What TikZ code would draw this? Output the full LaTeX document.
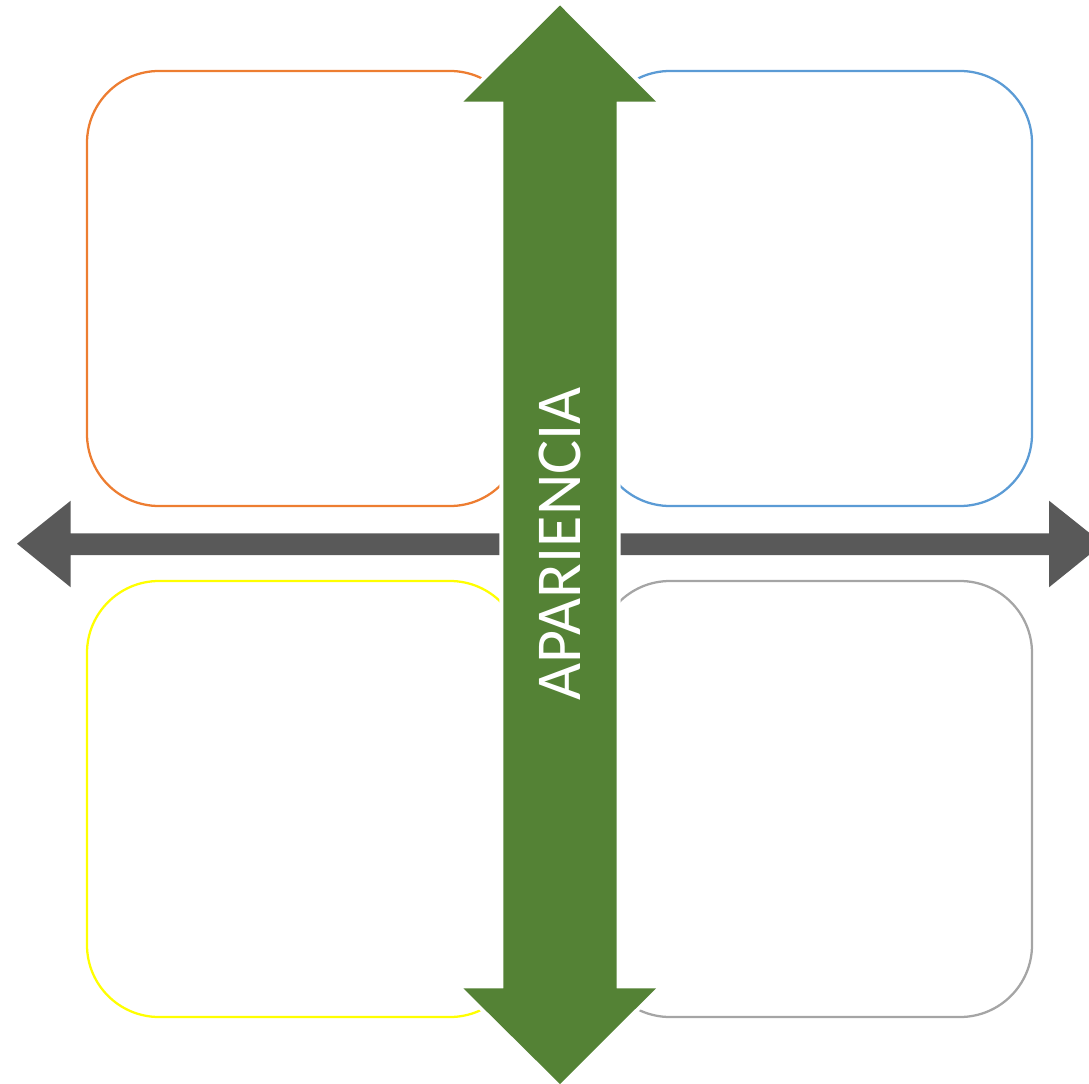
\documentclass[tikz,border=0pt]{standalone}
\usepackage{fontspec}
\setmainfont{Carlito}
\definecolor{cOrange}{HTML}{ED7D31}
\definecolor{cBlue}{HTML}{5B9BD5}
\definecolor{cYellow}{HTML}{FFFF00}
\definecolor{cGray}{HTML}{A5A5A5}
\definecolor{cDark}{HTML}{595959}
\definecolor{cGreen}{HTML}{548235}
\tikzset{
  quad/.style={line width=1.7pt, rounded corners=54pt},
  halo/.style={draw=white, line width=6pt, line join=miter},
}
\begin{document}
\begin{tikzpicture}[x=0.75pt,y=-0.75pt]
\useasboundingbox (0,0) rectangle (1089,1084);
\clip (0,0) rectangle (1089,1084);
% quadrant boxes
\draw[quad, cOrange] (87,71) rectangle (522,506);
\draw[quad, cBlue] (598,71) rectangle (1032,506);
\draw[quad, cYellow] (87,581) rectangle (522,1017);
\draw[quad, cGray] (598,581) rectangle (1032,1017);
% horizontal double arrow
\fill[cDark] (17,543.7) -- (70.7,500.7) -- (70.7,533.3) -- (1049,533.3) -- (1049,500.7)
  -- (1103,543.7) -- (1049,587.3) -- (1049,555) -- (70.7,555) -- (70.7,587.3) -- cycle;
% vertical green double arrow: white halo first, then fill
\def\greenarrow{(560,5.5) -- (656,101.7) -- (616.7,101.7) -- (616.7,988.3)
  -- (656,988.3) -- (560,1084) -- (463.3,988.3) -- (503.3,988.3) -- (503.3,101.7)
  -- (463.3,101.7) -- cycle}
\draw[halo] \greenarrow;
\fill[cGreen] \greenarrow;
\node[rotate=90, anchor=base, inner sep=0pt, text=white, font=\fontsize{48pt}{48pt}\selectfont]
  (label) at (580.5,544) {APARIENCIA};
\end{tikzpicture}
\end{document}
